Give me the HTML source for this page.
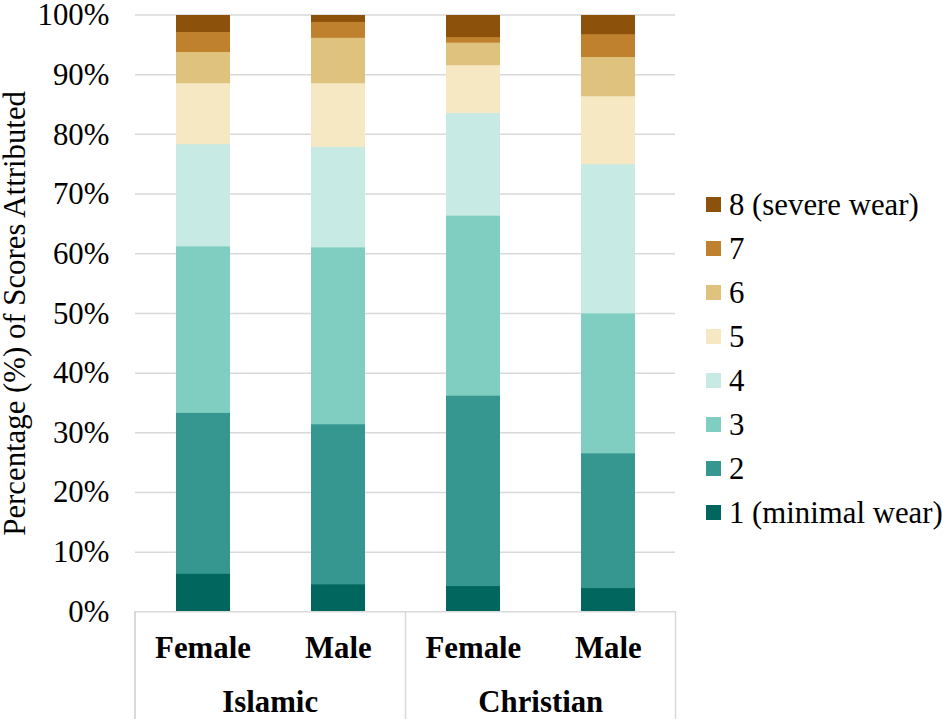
<!DOCTYPE html>
<html><head><meta charset="utf-8"><style>
html,body{margin:0;padding:0;background:#fff;overflow:hidden;}
svg{display:block;}
text{font-family:"Liberation Serif",serif;font-size:30.8px;fill:#000;}
.b{font-weight:bold;}
</style></head><body>
<svg width="945" height="724" viewBox="0 0 945 724">
<line x1="135" x2="675" y1="14.95" y2="14.95" stroke="#d9d9d9" stroke-width="1.5"/>
<line x1="135" x2="675" y1="74.65" y2="74.65" stroke="#d9d9d9" stroke-width="1.5"/>
<line x1="135" x2="675" y1="134.35" y2="134.35" stroke="#d9d9d9" stroke-width="1.5"/>
<line x1="135" x2="675" y1="194.05" y2="194.05" stroke="#d9d9d9" stroke-width="1.5"/>
<line x1="135" x2="675" y1="253.75" y2="253.75" stroke="#d9d9d9" stroke-width="1.5"/>
<line x1="135" x2="675" y1="313.45" y2="313.45" stroke="#d9d9d9" stroke-width="1.5"/>
<line x1="135" x2="675" y1="373.15" y2="373.15" stroke="#d9d9d9" stroke-width="1.5"/>
<line x1="135" x2="675" y1="432.85" y2="432.85" stroke="#d9d9d9" stroke-width="1.5"/>
<line x1="135" x2="675" y1="492.55" y2="492.55" stroke="#d9d9d9" stroke-width="1.5"/>
<line x1="135" x2="675" y1="552.25" y2="552.25" stroke="#d9d9d9" stroke-width="1.5"/>
<rect x="176" y="15" width="54" height="596.00" fill="#8c510a"/>
<rect x="176" y="32" width="54" height="579.00" fill="#bf812d"/>
<rect x="176" y="52" width="54" height="559.00" fill="#dfc27d"/>
<rect x="176" y="83.2" width="54" height="527.80" fill="#f6e8c3"/>
<rect x="176" y="144.3" width="54" height="466.70" fill="#c7eae5"/>
<rect x="176" y="246.4" width="54" height="364.60" fill="#80cdc1"/>
<rect x="176" y="412.9" width="54" height="198.10" fill="#35978f"/>
<rect x="176" y="573.8" width="54" height="37.20" fill="#01665e"/>
<rect x="311" y="15" width="54" height="596.00" fill="#8c510a"/>
<rect x="311" y="21.9" width="54" height="589.10" fill="#bf812d"/>
<rect x="311" y="37.8" width="54" height="573.20" fill="#dfc27d"/>
<rect x="311" y="83.2" width="54" height="527.80" fill="#f6e8c3"/>
<rect x="311" y="146.9" width="54" height="464.10" fill="#c7eae5"/>
<rect x="311" y="247.4" width="54" height="363.60" fill="#80cdc1"/>
<rect x="311" y="424.3" width="54" height="186.70" fill="#35978f"/>
<rect x="311" y="584.4" width="54" height="26.60" fill="#01665e"/>
<rect x="446" y="15" width="54" height="596.00" fill="#8c510a"/>
<rect x="446" y="37.1" width="54" height="573.90" fill="#bf812d"/>
<rect x="446" y="42.6" width="54" height="568.40" fill="#dfc27d"/>
<rect x="446" y="65.2" width="54" height="545.80" fill="#f6e8c3"/>
<rect x="446" y="113.1" width="54" height="497.90" fill="#c7eae5"/>
<rect x="446" y="215.7" width="54" height="395.30" fill="#80cdc1"/>
<rect x="446" y="395.7" width="54" height="215.30" fill="#35978f"/>
<rect x="446" y="586.1" width="54" height="24.90" fill="#01665e"/>
<rect x="581" y="15" width="54" height="596.00" fill="#8c510a"/>
<rect x="581" y="34.2" width="54" height="576.80" fill="#bf812d"/>
<rect x="581" y="57.0" width="54" height="554.00" fill="#dfc27d"/>
<rect x="581" y="96.2" width="54" height="514.80" fill="#f6e8c3"/>
<rect x="581" y="164.2" width="54" height="446.80" fill="#c7eae5"/>
<rect x="581" y="313.4" width="54" height="297.60" fill="#80cdc1"/>
<rect x="581" y="453.4" width="54" height="157.60" fill="#35978f"/>
<rect x="581" y="588.1" width="54" height="22.90" fill="#01665e"/>
<line x1="134.25" x2="676.25" y1="611.8" y2="611.8" stroke="#d9d9d9" stroke-width="1.5"/>
<line x1="135.0" x2="135.0" y1="611.8" y2="719" stroke="#cecece" stroke-width="1.5"/>
<line x1="405.5" x2="405.5" y1="611.8" y2="719" stroke="#d9d9d9" stroke-width="1.5"/>
<line x1="675.5" x2="675.5" y1="611.8" y2="719" stroke="#d9d9d9" stroke-width="1.5"/>
<text x="109.4" y="25.4" text-anchor="end" class="t">100%</text>
<text x="109.4" y="85.1" text-anchor="end" class="t">90%</text>
<text x="109.4" y="144.7" text-anchor="end" class="t">80%</text>
<text x="109.4" y="204.3" text-anchor="end" class="t">70%</text>
<text x="109.4" y="263.9" text-anchor="end" class="t">60%</text>
<text x="109.4" y="323.5" text-anchor="end" class="t">50%</text>
<text x="109.4" y="383.2" text-anchor="end" class="t">40%</text>
<text x="109.4" y="442.8" text-anchor="end" class="t">30%</text>
<text x="109.4" y="502.4" text-anchor="end" class="t">20%</text>
<text x="109.4" y="562.0" text-anchor="end" class="t">10%</text>
<text x="109.4" y="621.6" text-anchor="end" class="t">0%</text>
<text transform="translate(25.2,313.4) rotate(-90)" text-anchor="middle" class="t">Percentage (%) of Scores Attributed</text>
<text x="203" y="657.9" text-anchor="middle" class="b">Female</text>
<text x="338.3" y="657.9" text-anchor="middle" class="b">Male</text>
<text x="473.4" y="657.9" text-anchor="middle" class="b">Female</text>
<text x="608.3" y="657.9" text-anchor="middle" class="b">Male</text>
<text x="270.2" y="711.7" text-anchor="middle" class="b">Islamic</text>
<text x="540.8" y="711.7" text-anchor="middle" class="b">Christian</text>
<rect x="706" y="197" width="15" height="15" fill="#8c510a"/>
<text x="729" y="214.9" class="t">8 (severe wear)</text>
<rect x="706" y="241" width="15" height="15" fill="#bf812d"/>
<text x="729" y="258.9" class="t">7</text>
<rect x="706" y="285" width="15" height="15" fill="#dfc27d"/>
<text x="729" y="302.9" class="t">6</text>
<rect x="706" y="329" width="15" height="15" fill="#f6e8c3"/>
<text x="729" y="346.9" class="t">5</text>
<rect x="706" y="373" width="15" height="15" fill="#c7eae5"/>
<text x="729" y="390.9" class="t">4</text>
<rect x="706" y="417" width="15" height="15" fill="#80cdc1"/>
<text x="729" y="434.9" class="t">3</text>
<rect x="706" y="461" width="15" height="15" fill="#35978f"/>
<text x="729" y="478.9" class="t">2</text>
<rect x="706" y="505" width="15" height="15" fill="#01665e"/>
<text x="729" y="522.9" class="t">1 (minimal wear)</text>
</svg>
</body></html>
